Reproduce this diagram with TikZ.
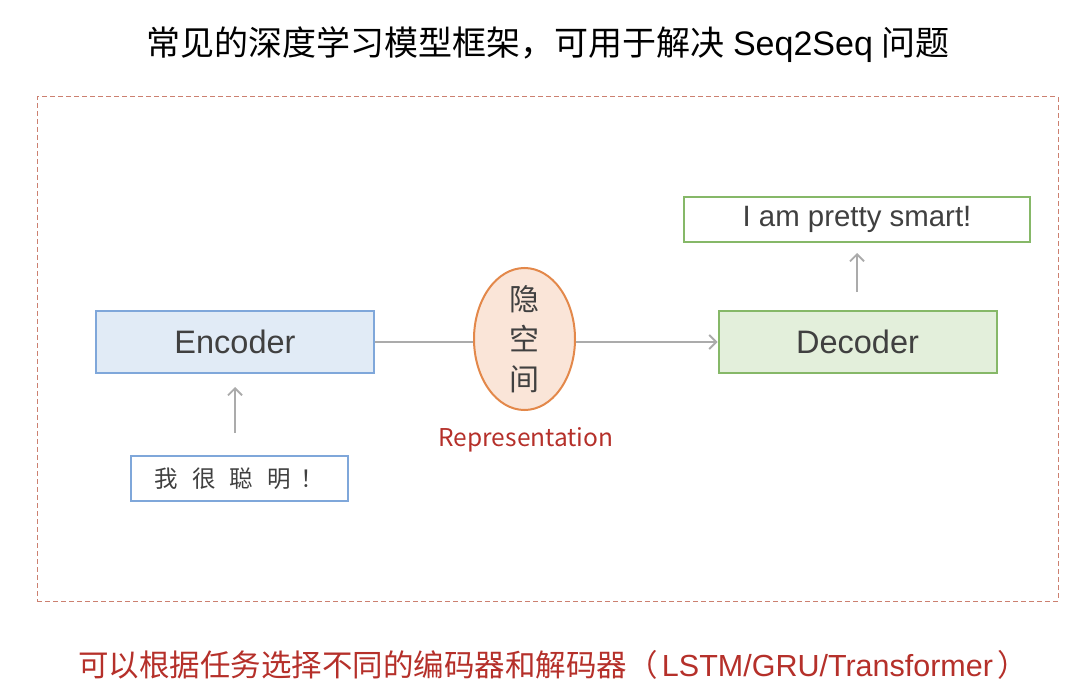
\documentclass[tikz,border=0pt]{standalone}
\usepackage{fontspec}
\setmainfont{Liberation Sans}
\newfontfamily\cjk{Noto Sans CJK SC}
\usetikzlibrary{arrows.meta,shapes.geometric}
\definecolor{txt}{HTML}{404040}
\definecolor{arr}{HTML}{ABABAB}
\definecolor{bluefill}{HTML}{E1EBF6}
\definecolor{blueline}{HTML}{7FA7DA}
\definecolor{greenfill}{HTML}{E3EFDB}
\definecolor{greenline}{HTML}{86B868}
\definecolor{orfill}{HTML}{FAE5D8}
\definecolor{orline}{HTML}{E3884A}
\definecolor{redtxt}{HTML}{B5302A}
\definecolor{frameline}{HTML}{CC8070}
\tikzset{
  mainbox/.style={draw, line width=2pt, inner sep=0pt, minimum width=278pt, minimum height=62pt, text=txt, font=\fontsize{32.5}{32.5}\selectfont},
  smallbox/.style={draw, line width=1.6pt, fill=white, inner sep=0pt, minimum height=45pt, text=txt},
  conn/.style={draw=arr, line width=1.8pt},
  arrowconn/.style={conn, -{Straight Barb[length=7pt,width=14pt,line width=1.8pt]}},
}
\begin{document}
\begin{tikzpicture}[x=1pt,y=-1pt]
\useasboundingbox (0,0) rectangle (1080,698);
\node (title) at (548,45) {\fontsize{34}{34}\selectfont\cjk 常见的深度学习模型框架，可用于解决\hspace{9pt}\rmfamily Seq2Seq\hspace{9pt}\cjk 问题};
\node[draw=frameline, line width=1pt, dash pattern=on 5pt off 3pt, minimum width=1021pt, minimum height=504pt, inner sep=0pt] (frame) at (547.5,349) {};
\node[mainbox, draw=blueline, fill=bluefill] (enc) at (235,342) {Encoder};
\node[smallbox, draw=blueline, minimum width=217pt, font=\cjk\fontsize{23.5}{23.5}\selectfont] (inp) at (239.5,478.5) {我\hspace{14pt}很\hspace{14pt}聪\hspace{14pt}明\hspace{10pt}！};
\node[ellipse, draw=orline, fill=orfill, line width=2pt, minimum width=101pt, minimum height=142pt, inner sep=0pt] (lat) at (524.5,339) {};
\node[text=txt, font=\cjk\fontsize{30}{41}\selectfont, align=center, inner sep=0pt] (latlabel) at (lat) {隐\\[-1pt]空\\[-1pt]间};
\node[text=redtxt, font=\cjk\fontsize{24.5}{24.5}\selectfont] (rep) at (526,440) {Representation};
\node[mainbox, draw=greenline, fill=greenfill] (dec) at (857.5,342) {Decoder};
\node[smallbox, draw=greenline, minimum width=346pt, font=\fontsize{29.4}{29.4}\selectfont] (out) at (857,219.5) {I am pretty smart!};
\node[text=redtxt] (note) at (553,665) {\fontsize{30.5}{30.5}\selectfont\cjk 可以根据任务选择不同的编码器和解码器（\hspace{4pt}\rmfamily LSTM/GRU/Transformer\hspace{4pt}\cjk ）};
\coordinate (inarrowstart) at (235,433);
\coordinate (inarrowend) at (235,387);
\coordinate (outarrowstart) at (857,292);
\coordinate (outarrowend) at (857,253);
\draw[arrowconn] (inarrowstart) -- (inarrowend);
\draw[arrowconn] (outarrowstart) -- (outarrowend);
\draw[conn] (enc.east) -- (enc.east -| lat.west);
\draw[arrowconn] (lat.east |- dec.west) -- (dec.west);
\end{tikzpicture}
\end{document}
